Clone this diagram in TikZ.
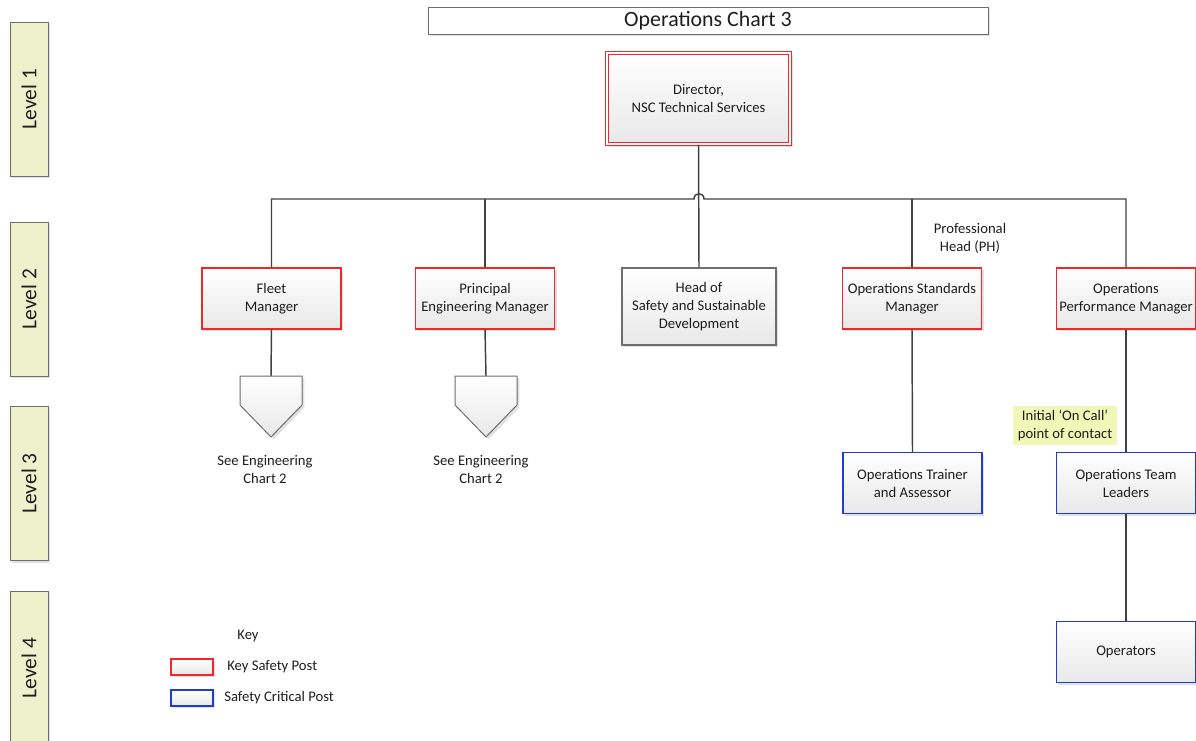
\documentclass[tikz,border=0pt]{standalone}
\usepackage{fontspec}
\setmainfont{Carlito}
\usetikzlibrary{shadows,calc}
\definecolor{linec}{RGB}{64,64,64}
\definecolor{redc}{RGB}{240,40,40}
\definecolor{bluec}{RGB}{30,60,210}
\definecolor{greyb}{RGB}{110,110,110}
\definecolor{levelc}{RGB}{238,242,204}
\definecolor{notec}{RGB}{240,248,184}
\definecolor{textc}{RGB}{30,30,30}
\tikzset{
  shad/.style={drop shadow={shadow xshift=1.8pt,shadow yshift=-1.8pt,fill=black!12,opacity=1}},
  post/.style={shad,rectangle,top color=white,bottom color=black!9,line width=0.9pt,
    align=center,text=textc,font=\fontsize{11}{13.5}\selectfont,inner sep=0pt},
  keypost/.style={post,draw=redc},
  critpost/.style={post,draw=bluec},
  plainpost/.style={post,draw=greyb,line width=0.8pt},
  stdsize/.style={minimum width=104.25pt,minimum height=45.75pt},
  levelbox/.style={shad,rectangle,draw=greyb,fill=levelc,line width=0.75pt,minimum width=115.5pt,
    minimum height=28.5pt,font=\fontsize{16}{18}\selectfont,text=textc,rotate=90,inner sep=0pt},
  conn/.style={draw=linec,line width=1.1pt},
  lbl/.style={align=center,text=textc,font=\fontsize{11}{13.5}\selectfont,inner sep=0pt},
}
\begin{document}
\begin{tikzpicture}[x=0.75pt,y=-0.75pt]
\useasboundingbox (0,0) rectangle (1196,740);
% level boxes
\node[levelbox] (lv1) at (29,99) {Level 1};
\node[levelbox] (lv2) at (29,299) {Level 2};
\node[levelbox] (lv3) at (29,483.5) {Level 3};
\node[levelbox] (lv4) at (29,668) {Level 4};
% title
\node[shad,rectangle,draw=greyb,fill=white,line width=0.75pt,minimum width=420pt,minimum height=20.25pt,
  font=\fontsize{16.4}{18}\selectfont,text=textc,inner sep=0pt] (title) at (708,20.5) {Operations Chart 3};
% director
\node[post,draw=redc,double=white,double distance=1.2pt,line width=0.75pt,
  minimum width=137.5pt,minimum height=68.5pt] (dir) at (698.5,98.5) {Director,\\NSC Technical Services};
% level 2
\node[keypost,stdsize] (fleet) at (271.5,298.5) {Fleet\\Manager};
\node[keypost,stdsize] (pem) at (485,298.5) {Principal\\Engineering Manager};
\node[plainpost,minimum width=115.5pt,minimum height=57.75pt] (hos) at (699,306.5) {Head of\\Safety and Sustainable\\Development};
\node[keypost,stdsize] (osm) at (912,298.5) {Operations Standards\\Manager};
\node[keypost,stdsize] (opm) at (1126,298.5) {Operations\\Performance Manager};
% level 3/4
\node[critpost,stdsize] (trainer) at (912.5,483) {Operations Trainer\\and Assessor};
\node[critpost,stdsize] (tl) at (1126,483) {Operations Team\\Leaders};
\node[critpost,stdsize] (ops) at (1126,652) {Operators};
% off-page connectors
\coordinate (pentA) at (271,376);
\coordinate (pentB) at (486,376);
\foreach \p in {pentA,pentB}{
  \path[shad,top color=white,bottom color=black!9,draw=greyb,line width=0.75pt]
    ($(\p)+(-31,0)$) -- ($(\p)+(31,0)$) -- ($(\p)+(31,29)$) -- ($(\p)+(0,61)$) -- ($(\p)+(-31,29)$) -- cycle;
}
\node[lbl] (seeA) at (265,469) {See Engineering\\Chart 2};
\node[lbl] (seeB) at (481,469) {See Engineering\\Chart 2};
% labels
\node[lbl] (ph) at (970,238) {Professional\\Head (PH)};
\node[rectangle,fill=notec,minimum width=78pt,minimum height=29.25pt,lbl] (note) at (1065,425.5) {Initial ‘On Call’\\point of contact};
% connectors
\coordinate (hopL) at (694,199);
\coordinate (hopR) at (704,199);
\draw[conn] (fleet.north) |- (hopL) .. controls ($(hopL)+(0,-7)$) and ($(hopR)+(0,-7)$) .. (hopR) -| (opm.north);
\draw[conn,line width=1.6pt] (pem.north) -- (pem.north |- hopL);
\draw[conn] (osm.north) -- (osm.north |- hopL);
\draw[conn] (dir.south) -- (hos.north);
\draw[conn] (fleet.south) -- (pentA);
\draw[conn] (pem.south) -- (pentB);
\draw[conn] (osm.south) -- (trainer.north);
\draw[conn] (opm.south) -- (tl.north);
\draw[conn] (tl.south) -- (ops.north);
% key
\node[lbl] (keyt) at (248,636) {Key};
\node[keypost,minimum width=31.5pt,minimum height=12pt] (k1) at (192,667) {};
\node[critpost,minimum width=31.5pt,minimum height=12pt] (k2) at (192,698) {};
\node[lbl,anchor=west] (k1t) at (227,667) {Key Safety Post};
\node[lbl,anchor=west] (k2t) at (224,698) {Safety Critical Post};
\end{tikzpicture}
\end{document}
